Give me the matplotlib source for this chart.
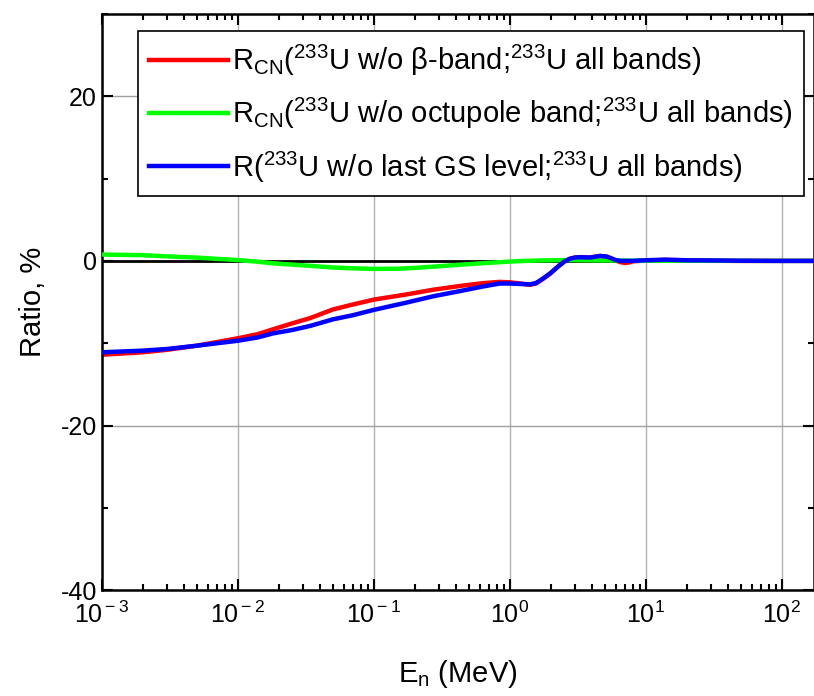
# Ratio of cross sections for 233U band-structure variations

import numpy as np
import matplotlib.pyplot as plt
from matplotlib.ticker import LogLocator, MultipleLocator, FixedLocator, NullFormatter

plt.rcParams["font.family"] = "Liberation Sans"
plt.rcParams["mathtext.fontset"] = "custom"
plt.rcParams["mathtext.rm"] = "Liberation Sans"
plt.rcParams["mathtext.it"] = "Liberation Sans:italic"
plt.rcParams["axes.unicode_minus"] = False

# Data (E in MeV, ratio in %)
e_red = [0.001, 0.002, 0.003, 0.005, 0.01, 0.014, 0.0182, 0.025, 0.034, 0.05,
         0.07, 0.1, 0.17, 0.273, 0.45, 0.637, 0.84, 1.0, 1.2, 1.40, 1.55, 1.66,
         1.8, 1.98, 2.15, 2.33, 2.5, 2.75, 3.0, 3.27, 3.6, 3.88, 4.2, 4.6, 5.15,
         5.5, 5.96, 6.5, 7.0, 7.5, 8.0, 10, 14, 20, 50, 100, 175]
r_red = [-11.4, -11.1, -10.8, -10.3, -9.4, -8.9, -8.3, -7.6, -6.95, -5.9,
         -5.3, -4.7, -4.1, -3.5, -3.0, -2.7, -2.55, -2.6, -2.75, -2.9, -2.75, -2.45,
         -2.05, -1.55, -1.0, -0.5, -0.1, 0.25, 0.4, 0.45, 0.43, 0.42, 0.5, 0.6, 0.5,
         0.3, 0.05, -0.15, -0.25, -0.2, -0.05, 0.05, 0.12, 0.05, 0.0, 0.0, 0.0]

e_green = [0.001, 0.002, 0.003, 0.005, 0.007, 0.01, 0.014, 0.0182, 0.025, 0.034,
           0.05, 0.07, 0.1, 0.15, 0.2, 0.273, 0.4, 0.637, 1.0, 1.3, 1.66, 2.6,
           5.0, 10, 175]
r_green = [0.77, 0.7, 0.55, 0.4, 0.25, 0.1, -0.1, -0.3, -0.45, -0.6,
           -0.8, -0.9, -0.97, -0.95, -0.85, -0.7, -0.5, -0.28, -0.08, 0.0, 0.05, 0.1,
           0.05, 0.02, 0.0]

e_blue = [0.001, 0.002, 0.003, 0.005, 0.01, 0.014, 0.0182, 0.025, 0.034, 0.05,
          0.07, 0.1, 0.17, 0.273, 0.45, 0.637, 0.84, 1.0, 1.2, 1.40, 1.55, 1.66,
          1.8, 1.98, 2.15, 2.33, 2.5, 2.75, 3.0, 3.27, 3.6, 3.88, 4.2, 4.6, 5.15,
          5.5, 5.96, 6.5, 7.0, 8.0, 10, 14, 20, 50, 100, 175]
r_blue = [-11.1, -10.9, -10.7, -10.3, -9.7, -9.3, -8.8, -8.4, -7.9, -7.1,
          -6.6, -5.95, -5.1, -4.3, -3.6, -3.1, -2.75, -2.75, -2.8, -2.85, -2.7, -2.4,
          -2.0, -1.5, -1.0, -0.5, -0.1, 0.25, 0.4, 0.45, 0.42, 0.4, 0.5, 0.6, 0.53,
          0.35, 0.12, 0.0, 0.0, 0.0, 0.08, 0.15, 0.08, 0.02, 0.0, 0.0]

labels = [
    r"R$_{\rm CN}$($^{\rm 233}$U w/o β-band;$^{\rm 233}$U all bands)",
    r"R$_{\rm CN}$($^{\rm 233}$U w/o octupole band;$^{\rm 233}$U all bands)",
    r"R($^{\rm 233}$U w/o last GS level;$^{\rm 233}$U all bands)",
]

fig = plt.figure(figsize=(8.14, 6.96), dpi=100)
ax = fig.add_axes([0.125, 0.152, 0.875, 0.828])

# grid and zero line
for v in [1e-3, 1e-2, 1e-1, 1e0, 1e1, 1e2]:
    ax.axvline(v, color="#b0b0b0", lw=1, zorder=0)
for v in [20, -20]:
    ax.axhline(v, color="#a0a0a0", lw=1, zorder=0)
ax.axhline(0, color="black", lw=2, zorder=1)

ax.plot(e_red, r_red, color="#ff0000", lw=3.2, label=labels[0], zorder=2)
ax.plot(e_green, r_green, color="#00ff00", lw=3.2, label=labels[1], zorder=3)
ax.plot(e_blue, r_blue, color="#0000ff", lw=3.2, label=labels[2], zorder=4)

ax.set_xscale("log")
ax.set_xlim(1e-3, 172)
ax.set_ylim(-40, 30)

ax.xaxis.set_major_locator(FixedLocator([1e-3, 1e-2, 1e-1, 1e0, 1e1, 1e2]))
ax.set_xticklabels([r"10$^{\rm -3}$", r"10$^{\rm -2}$", r"10$^{\rm -1}$",
                    r"10$^{\rm 0}$", r"10$^{\rm 1}$", r"10$^{\rm 2}$"])
ax.xaxis.set_minor_locator(LogLocator(base=10, subs=np.arange(2, 10), numticks=20))
ax.xaxis.set_minor_formatter(NullFormatter())
ax.yaxis.set_major_locator(FixedLocator([-40, -20, 0, 20]))
ax.yaxis.set_minor_locator(MultipleLocator(10))

ax.tick_params(which="both", direction="in", top=True, right=True, width=1.5,
               labelsize=18)
ax.tick_params(which="major", length=8)
ax.tick_params(which="minor", length=4.5)
ax.tick_params(axis="x", pad=8)
for s in ax.spines.values():
    s.set_linewidth(1.8)

ax.set_ylabel("Ratio, %", fontsize=21, labelpad=10)
ax.set_xlabel(r"E$_{\rm n}$ (MeV)", fontsize=21, labelpad=22)

leg = ax.legend(loc="upper left", bbox_to_anchor=(0.0506, 0.97), borderaxespad=0,
                fontsize=21, handlelength=2.7, handletextpad=0.12, labelspacing=0.62,
                borderpad=0.4, fancybox=False, framealpha=1, edgecolor="black")
leg.get_frame().set_linewidth(1.2)

plt.savefig("out.png", dpi=100)
plt.close()
